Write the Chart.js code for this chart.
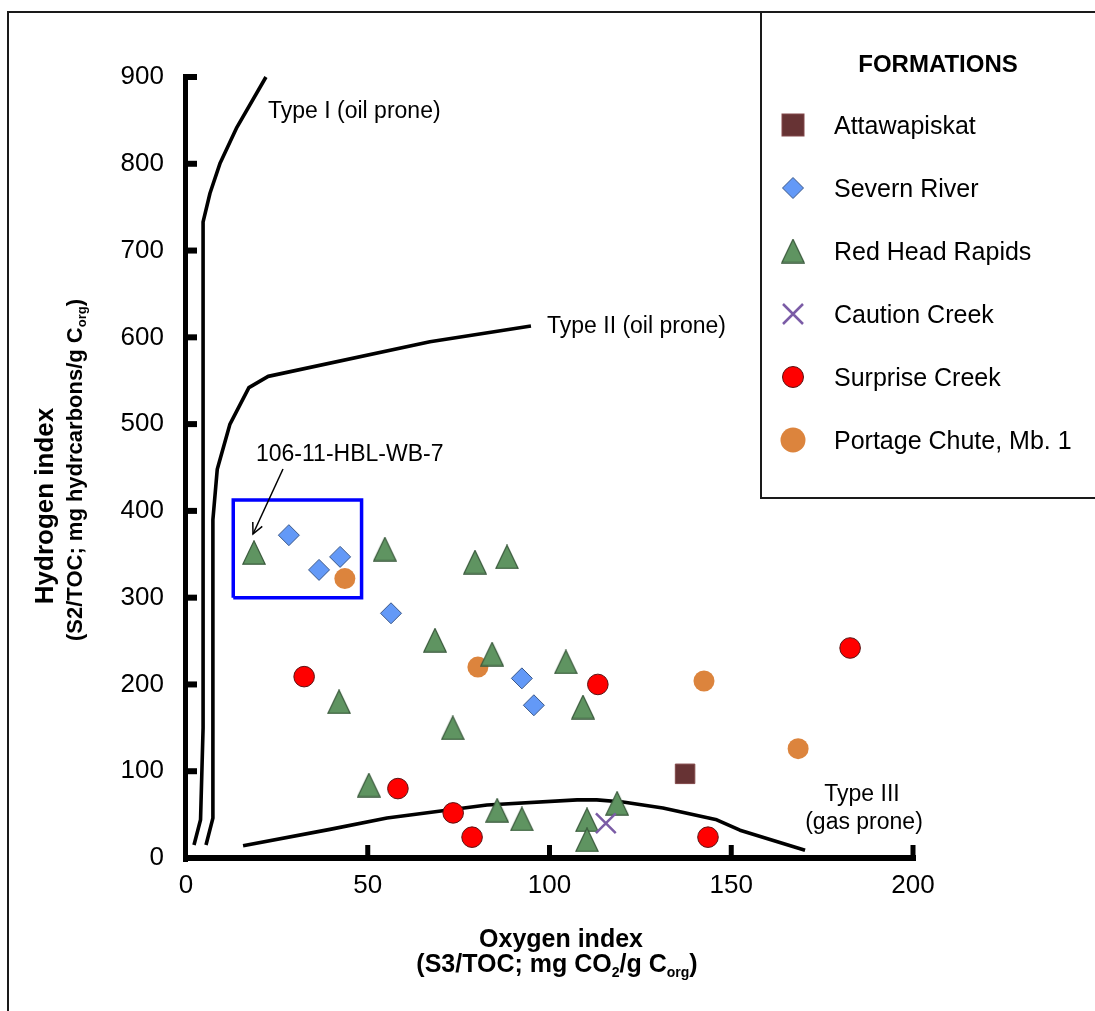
<!DOCTYPE html>
<html>
<head>
<meta charset="utf-8">
<script src="https://cdn.jsdelivr.net/npm/chart.js@4.4.1/dist/chart.umd.min.js"></script>
<style>
html,body{margin:0;padding:0;background:#fff;}
#wrap{position:relative;width:1095px;height:1011px;overflow:hidden;}
canvas{display:block;}
</style>
</head>
<body>
<div id="wrap"><canvas id="c" width="1095" height="1011"></canvas></div>
<script>
const FONT = '"Liberation Sans", Arial, Helvetica, sans-serif';

// ---- tick labels ----
const xTicks = [0, 50, 100, 150, 200];
const yTicks = [0, 100, 200, 300, 400, 500, 600, 700, 800, 900];

// ---- series names ----
const seriesNames = ['Attawapiskat', 'Severn River', 'Red Head Rapids', 'Caution Creek', 'Surprise Creek', 'Portage Chute, Mb. 1'];

// ---- sample values (Oxygen index, Hydrogen index) ----
const attawapiskatOI = [137.3];
const attawapiskatHI = [97];

const severnOI = [28.3, 36.6, 42.4, 56.4, 92.4, 95.7];
const severnHI = [372, 332, 347, 282, 207, 176];

const redHeadOI = [18.7, 54.7, 79.5, 88.3, 68.5, 84.2, 104.5, 109.2, 42.1, 73.4, 50.3, 85.6, 92.4, 110.3, 110.3, 118.6];
const redHeadHI = [352, 356, 341, 347, 251, 235, 226, 174, 180, 150, 84, 55, 45, 44, 21, 63];

const cautionOI = [115.5];
const cautionHI = [40];

const surpriseOI = [32.5, 58.3, 73.5, 78.7, 143.6, 113.3, 182.7];
const surpriseHI = [209, 80, 52, 24, 24, 200, 242];

const portageOI = [43.7, 80.3, 142.5, 168.4];
const portageHI = [322, 220, 204, 126];

// ---- kerogen type reference curves ----
const typeIOI = [2.2, 4.0, 4.7, 4.7, 6.6, 9.4, 14.0, 22.0];
const typeIHI = [15, 44, 150, 733, 766, 801, 842, 900];

const typeIIOI = [5.5, 7.4, 7.4, 8.6, 12.1, 17.3, 22.6, 67.1, 94.9];
const typeIIHI = [15, 46, 390, 448, 500, 542, 555, 595, 613];

const typeIIIOI = [15.7, 39.6, 55.3, 82.8, 107.6, 113, 120.2, 131.2, 146, 152.4, 170.3];
const typeIIIHI = [14, 33, 46, 61, 67, 67, 64.5, 57.6, 44, 32, 9];

// ---- highlighted sample box ----
const boxOI = [13, 48.3, 48.3, 13, 13];
const boxHI = [300, 300, 412.5, 412.5, 300];

function pts(xs, ys) { return xs.map((x, i) => ({ x: x, y: ys[i] })); }

// colours
const C_SQ = '#673334', C_SQ_B = '#83494a';
const C_DI = '#6399f7', C_DI_B = '#3b5888';
const C_TR = '#5f9461', C_TR_B = '#3a5a3c';
const C_X = '#7b5ca6';
const C_RED = '#ff0000', C_RED_B = '#5a1212';
const C_OR = '#dc843d';

// triangle marker image (slightly taller than equilateral)
function makeTriangle(w, h) {
  const c = document.createElement('canvas');
  c.width = w; c.height = h;
  const g = c.getContext('2d');
  g.beginPath();
  g.moveTo(w / 2, 0.8);
  g.lineTo(w - 0.8, h - 0.8);
  g.lineTo(0.8, h - 0.8);
  g.closePath();
  g.fillStyle = C_TR; g.fill();
  g.lineWidth = 1.2; g.strokeStyle = C_TR_B; g.stroke();
  return c;
}
const triImg = makeTriangle(24, 25);

function curve(label, xs, ys) {
  return { label: label, data: pts(xs, ys), showLine: true, borderColor: '#000', borderWidth: 3.6,
           pointRadius: 0, fill: false, tension: 0, order: 20, clip: false,
           borderCapStyle: 'butt', borderJoinStyle: 'round' };
}

const decor = {
  id: 'decor',
  afterDraw(chart) {
    const ctx = chart.ctx;
    const xs = chart.scales.x, ys = chart.scales.y;
    ctx.save();

    // outer frame and legend box
    ctx.strokeStyle = '#1a1a1a'; ctx.lineWidth = 2;
    ctx.beginPath(); ctx.moveTo(8, 1015); ctx.lineTo(8, 12); ctx.lineTo(1100, 12); ctx.stroke();
    ctx.beginPath(); ctx.moveTo(761, 12); ctx.lineTo(761, 498); ctx.lineTo(1100, 498); ctx.stroke();

    // axes with inward ticks
    const x0 = xs.getPixelForValue(0), xEnd = xs.getPixelForValue(xTicks[xTicks.length - 1]);
    const y0 = ys.getPixelForValue(0), yEnd = ys.getPixelForValue(yTicks[yTicks.length - 1]);
    ctx.fillStyle = '#000';
    ctx.fillRect(x0 - 3, yEnd - 3, 5, y0 - yEnd + 7);           // y axis
    ctx.fillRect(x0 - 3, y0 - 3, xEnd - x0 + 6, 6);            // x axis
    yTicks.forEach(v => { if (v === 0) return; const p = ys.getPixelForValue(v); ctx.fillRect(x0 - 3, p - 3, 14, 6); });
    xTicks.forEach(v => { if (v === 0) return; const p = xs.getPixelForValue(v); ctx.fillRect(p - 2.5, y0 - 13, 5, 13); });

    // axis titles
    ctx.fillStyle = '#000';
    ctx.textBaseline = 'alphabetic';
    // x title
    ctx.font = 'bold 25px ' + FONT; ctx.textAlign = 'center';
    ctx.fillText('Oxygen index', 561, 947);
    drawRich(ctx, [['(S3/TOC; mg CO', 0], ['2', 1], ['/g C', 0], ['org', 1], [')', 0]], 557, 972, 25, 0);
    // y title
    ctx.save();
    ctx.translate(53, 506); ctx.rotate(-Math.PI / 2);
    ctx.font = 'bold 26px ' + FONT; ctx.textAlign = 'center';
    ctx.fillText('Hydrogen index', 0, 0);
    ctx.restore();
    ctx.save();
    ctx.translate(82, 470); ctx.rotate(-Math.PI / 2);
    drawRich(ctx, [['(S2/TOC; mg hydrcarbons/g C', 0], ['org', 1], [')', 0]], 0, 0, 22, 0);
    ctx.restore();

    // curve labels
    ctx.font = '23px ' + FONT; ctx.textAlign = 'left'; ctx.fillStyle = '#000';
    ctx.fillText('Type I (oil prone)', 268, 118);
    ctx.fillText('Type II (oil prone)', 547, 333);
    ctx.textAlign = 'center';
    ctx.fillText('Type III', 862, 801);
    ctx.fillText('(gas prone)', 864, 829);
    ctx.textAlign = 'left';
    ctx.fillText('106-11-HBL-WB-7', 256, 461);

    // arrow to sample
    ctx.strokeStyle = '#000'; ctx.lineWidth = 1.5;
    const ax1 = 283, ay1 = 469, ax2 = 253, ay2 = 534;
    ctx.beginPath(); ctx.moveTo(ax1, ay1); ctx.lineTo(ax2, ay2); ctx.stroke();
    const ang = Math.atan2(ay2 - ay1, ax2 - ax1);
    ctx.beginPath();
    ctx.moveTo(ax2 - 12 * Math.cos(ang - 0.45), ay2 - 12 * Math.sin(ang - 0.45));
    ctx.lineTo(ax2, ay2);
    ctx.lineTo(ax2 - 12 * Math.cos(ang + 0.45), ay2 - 12 * Math.sin(ang + 0.45));
    ctx.stroke();

    // legend
    ctx.font = 'bold 24px ' + FONT; ctx.textAlign = 'center'; ctx.fillStyle = '#000';
    ctx.fillText('FORMATIONS', 938, 72);
    const rows = [125, 188, 251, 314, 377, 440];
    const mx = 793;
    ctx.font = '25px ' + FONT; ctx.textAlign = 'left';
    seriesNames.forEach((n, i) => { ctx.fillStyle = '#000'; ctx.fillText(n, 834, rows[i] + 9); });
    // square
    ctx.fillStyle = C_SQ; ctx.fillRect(mx - 11, rows[0] - 11, 22, 22);
    ctx.strokeStyle = C_SQ_B; ctx.lineWidth = 1; ctx.strokeRect(mx - 11, rows[0] - 11, 22, 22);
    // diamond
    ctx.beginPath(); ctx.moveTo(mx, rows[1] - 10.5); ctx.lineTo(mx + 10.5, rows[1]); ctx.lineTo(mx, rows[1] + 10.5); ctx.lineTo(mx - 10.5, rows[1]); ctx.closePath();
    ctx.fillStyle = C_DI; ctx.fill(); ctx.strokeStyle = C_DI_B; ctx.lineWidth = 1; ctx.stroke();
    // triangle
    ctx.drawImage(triImg, mx - 12, rows[2] - 12.5);
    // cross
    ctx.strokeStyle = C_X; ctx.lineWidth = 2.5;
    ctx.beginPath(); ctx.moveTo(mx - 10, rows[3] - 10); ctx.lineTo(mx + 10, rows[3] + 10); ctx.moveTo(mx + 10, rows[3] - 10); ctx.lineTo(mx - 10, rows[3] + 10); ctx.stroke();
    // red circle
    ctx.beginPath(); ctx.arc(mx, rows[4], 10.5, 0, Math.PI * 2); ctx.fillStyle = C_RED; ctx.fill(); ctx.strokeStyle = C_RED_B; ctx.lineWidth = 1; ctx.stroke();
    // orange circle
    ctx.beginPath(); ctx.arc(mx, rows[5], 12.5, 0, Math.PI * 2); ctx.fillStyle = C_OR; ctx.fill();

    ctx.restore();
  }
};

// draw text with subscripts; parts: [text, isSub]; centered at x
function drawRich(ctx, parts, x, y, size, _) {
  const subSize = Math.round(size * 0.58);
  let total = 0;
  parts.forEach(p => { ctx.font = 'bold ' + (p[1] ? subSize : size) + 'px ' + FONT; total += ctx.measureText(p[0]).width; });
  let cx = x - total / 2;
  ctx.textAlign = 'left';
  parts.forEach(p => {
    ctx.font = 'bold ' + (p[1] ? subSize : size) + 'px ' + FONT;
    ctx.fillText(p[0], cx, y + (p[1] ? size * 0.2 : 0));
    cx += ctx.measureText(p[0]).width;
  });
}

new Chart(document.getElementById('c'), {
  type: 'scatter',
  data: {
    datasets: [
      { label: seriesNames[0], data: pts(attawapiskatOI, attawapiskatHI), pointStyle: 'rect', pointRadius: 13.8,
        backgroundColor: C_SQ, borderColor: C_SQ_B, borderWidth: 1, order: 1 },
      { label: seriesNames[4], data: pts(surpriseOI, surpriseHI), pointStyle: 'circle', pointRadius: 10.3,
        backgroundColor: C_RED, borderColor: C_RED_B, borderWidth: 1, order: 2 },
      { label: seriesNames[3], data: pts(cautionOI, cautionHI), pointStyle: 'crossRot', pointRadius: 14,
        backgroundColor: C_X, borderColor: C_X, borderWidth: 2.5, order: 3 },
      { label: seriesNames[1], data: pts(severnOI, severnHI), pointStyle: 'rectRot', pointRadius: 10.5,
        backgroundColor: C_DI, borderColor: C_DI_B, borderWidth: 1, order: 4 },
      { label: seriesNames[2], data: pts(redHeadOI, redHeadHI), pointStyle: triImg, pointRadius: 12,
        backgroundColor: C_TR, borderColor: C_TR_B, borderWidth: 1, order: 5 },
      { label: seriesNames[5], data: pts(portageOI, portageHI), pointStyle: 'circle', pointRadius: 10.5,
        backgroundColor: C_OR, borderColor: C_OR, borderWidth: 0, order: 6 },
      { label: 'Sample box', data: pts(boxOI, boxHI), showLine: true, borderColor: '#0000ff', borderWidth: 3.5,
        pointRadius: 0, fill: false, tension: 0, order: 15, borderJoinStyle: 'miter', clip: false },
      curve('Type I', typeIOI, typeIHI),
      curve('Type II', typeIIOI, typeIIHI),
      curve('Type III', typeIIIOI, typeIIIHI)
    ]
  },
  options: {
    responsive: false,
    animation: false,
    devicePixelRatio: 1,
    events: [],
    layout: { padding: { left: 0, top: 77, right: 182, bottom: 0 } },
    plugins: { legend: { display: false }, tooltip: { enabled: false } },
    scales: {
      x: {
        type: 'linear', position: 'bottom', min: 0, max: 200,
        afterBuildTicks: s => { s.ticks = xTicks.map(v => ({ value: v })); },
        ticks: { font: { family: FONT, size: 26 }, color: '#000', padding: 12, maxRotation: 0, autoSkip: false },
        grid: { display: false, drawTicks: false }, border: { display: false },
        afterFit: s => { s.height = 153; }
      },
      y: {
        type: 'linear', position: 'left', min: 0, max: 900,
        afterBuildTicks: s => { s.ticks = yTicks.map(v => ({ value: v })); },
        ticks: { font: { family: FONT, size: 26 }, color: '#000', padding: 22, autoSkip: false },
        grid: { display: false, drawTicks: false }, border: { display: false },
        afterFit: s => { s.width = 186; }
      }
    }
  },
  plugins: [decor]
});
</script>
</body>
</html>
